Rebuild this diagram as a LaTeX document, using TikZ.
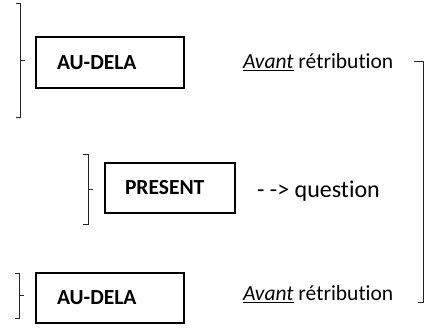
\documentclass[tikz,border=0pt]{standalone}
\usepackage{fontspec}
\setmainfont{Carlito}[Ligatures={NoCommon}]
\begin{document}
\begin{tikzpicture}[x=1pt, y=-1pt,
  stage/.style={draw=black, line width=1.1pt, minimum height=51pt,
    inner ysep=0pt, align=left, font=\fontsize{21.5}{25}\selectfont\bfseries},
  note/.style={anchor=base west, inner sep=0pt, font=\fontsize{21.5}{25}\selectfont},
  bracketline/.style={draw=black!85, line width=0.9pt}]
\useasboundingbox (0,0) rectangle (430,331);

% stage boxes
\node[stage, text width=106pt, inner xsep=21pt] (audelaA) at (110,62.5) {AU-DELA};
\node[stage, text width=90pt, inner xsep=20pt, minimum height=50pt] (present) at (170,188) {PRESENT};
\node[stage, text width=106pt, inner xsep=21pt, minimum height=50pt] (audelaB) at (110,298) {AU-DELA};

% side notes
\node[note] (avantA) at (243,68.3) {\underline{\textit{Avant}} rétribution};
\node[note, font=\fontsize{24}{28}\selectfont] (question) at (257,197.3) {- -> question};
\node[note] (avantB) at (243,300.7) {\underline{\textit{Avant}} rétribution};

% left brackets with a tick toward each box
\draw[bracketline] (16,3) -- (20,3) -- (20,117) -- (16,117);
\draw[bracketline] (20,60) -- (25,60);
\draw[bracketline] (83,154) -- (88,154) -- (88,224) -- (83,224);
\draw[bracketline] (88,189) -- (93,189);
\draw[bracketline] (15,273) -- (19,273) -- (19,318) -- (15,318);
\draw[bracketline] (19,295) -- (24,295);

% right bracket joining the two notes
\draw[bracketline] (414,61) -- (423,61) -- (423,302) -- (418,302);
\end{tikzpicture}
\end{document}
